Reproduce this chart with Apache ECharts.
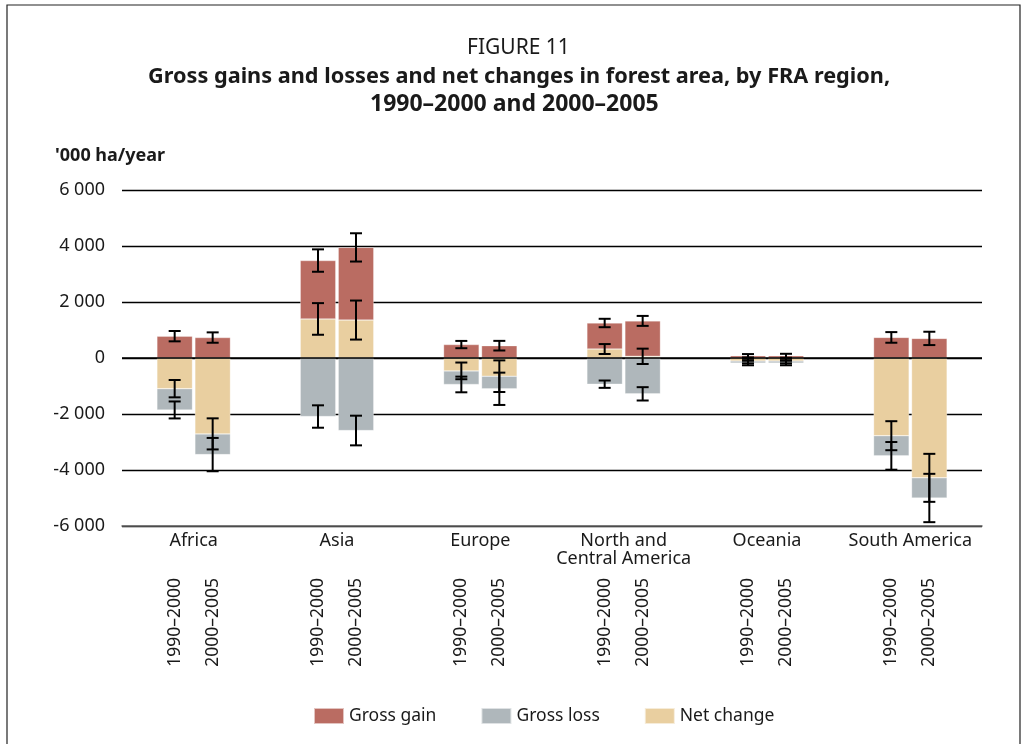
<!DOCTYPE html>
<html>
<head>
<meta charset="utf-8">
<script src="https://cdn.jsdelivr.net/npm/echarts@6/dist/echarts.min.js"></script>
<style>html,body{margin:0;padding:0;background:#fff}#chart{width:1028px;height:744px}</style>
</head>
<body>
<div id="chart"></div>
<script>
// ---- data ('000 ha/year) ----
const regions = ['Africa', 'Asia', 'Europe', 'North and\nCentral America', 'Oceania', 'South America'];
const periods = ['1990–2000', '2000–2005'];
const yTicks = [-6000, -4000, -2000, 0, 2000, 4000, 6000];

const gain1990 = [780, 3480, 480, 1250, 80, 735];
const gain2005 = [730, 3950, 440, 1325, 80, 700];
const loss1990 = [-1855, -2090, -945, -935, -180, -3495];
const loss2005 = [-3450, -2590, -1100, -1280, -180, -5000];
const net1990 = [-1095, 1395, -460, 320, -110, -2775];
const net2005 = [-2710, 1355, -650, 60, -110, -4280];

const gainErr1990 = [185, 400, 130, 150, 60, 190];
const gainErr2005 = [185, 505, 172, 178, 70, 238];
const netErr1990 = [310, 565, 298, 178, 80, 518];
const netErr2005 = [555, 697, 565, 274, 80, 857];
const lossErr1990 = [303, 400, 280, 131, 80, 494];
const lossErr2005 = [595, 530, 577, 238, 80, 863];

// ---- style ----
const FONT = 'Noto Sans';
const TXT = '#1a1a1a';
const C_GAIN = '#BA6C62', C_LOSS = '#AFB7BB', C_NET = '#E9CFA0';
const BAR_W = 35.5, GAP_PX = 2.5;
const OFFSET = (BAR_W + GAP_PX) / 2;

// stack segments built from the values
function gainPart(g, n) { return g.map((v, i) => n[i] >= 0 ? v - n[i] : v); }
function lossPart(l, n) { return l.map((v, i) => n[i] < 0 ? v - n[i] : v); }

function barSeries(name, data, stack, color) {
  return {
    name: name, type: 'bar', stack: stack, data: data,
    barWidth: BAR_W, barGap: (GAP_PX / BAR_W * 100).toFixed(1) + '%',
    itemStyle: { color: color, borderColor: 'rgba(255,255,255,0.6)', borderWidth: 0.5 },
    silent: true
  };
}

const errData = [];
[[gain1990, gainErr1990, net1990, netErr1990, loss1990, lossErr1990],
 [gain2005, gainErr2005, net2005, netErr2005, loss2005, lossErr2005]].forEach((s, p) => {
  for (let i = 0; i < regions.length; i++) {
    for (let k = 0; k < 6; k += 2) {
      const v = s[k][i], e = s[k + 1][i];
      errData.push([i, p, v - e, v + e]);
    }
  }
});

const periodData = [];
for (let i = 0; i < regions.length; i++) { periodData.push([i, 0]); periodData.push([i, 1]); }

const chart = echarts.init(document.getElementById('chart'), null, { renderer: 'canvas' });
chart.setOption({
  animation: false,
  backgroundColor: '#fff',
  textStyle: { fontFamily: FONT, color: TXT },
  graphic: [{ type: 'rect', shape: { x: 7, y: 5, width: 1013, height: 800 },
              style: { fill: 'none', stroke: '#222', lineWidth: 1.2 }, silent: true }],
  title: [
    { text: 'FIGURE 11', left: 467, top: 38, padding: 0,
      textStyle: { fontFamily: FONT, fontSize: 21, fontWeight: 'normal', color: TXT } },
    { text: 'Gross gains and losses and net changes in forest area, by FRA region,',
      left: 148, top: 66, padding: 0,
      textStyle: { fontFamily: FONT, fontSize: 21.7, fontWeight: 'bold', color: TXT } },
    { text: '1990–2000 and 2000–2005',
      left: 370, top: 93, padding: 0,
      textStyle: { fontFamily: FONT, fontSize: 23, fontWeight: 'bold', color: TXT } },
    { text: "'000 ha/year", left: 55, top: 147, padding: 0,
      textStyle: { fontFamily: FONT, fontSize: 18, fontWeight: 'bold', color: TXT } }
  ],
  legend: {
    data: ['Gross gain', 'Gross loss', 'Net change'],
    left: 313, top: 707, padding: 0, itemWidth: 30, itemHeight: 16, itemGap: 44,
    icon: 'rect', selectedMode: false,
    textStyle: { fontFamily: FONT, fontSize: 17.5, color: TXT }
  },
  grid: { left: 122, right: 46, top: 190, bottom: 218, containLabel: false },
  xAxis: {
    type: 'category', data: regions,
    axisLine: { show: true, onZero: false, lineStyle: { color: '#666', width: 1.5 } },
    axisTick: { show: false },
    axisLabel: { fontFamily: FONT, fontSize: 18, color: TXT, margin: 6, lineHeight: 18, interval: 0 }
  },
  yAxis: {
    type: 'value', min: yTicks[0], max: yTicks[yTicks.length - 1], interval: 2000,
    axisLine: { show: false }, axisTick: { show: false },
    splitLine: { lineStyle: { color: '#000', width: 1.3 } },
    axisLabel: {
      fontFamily: FONT, fontSize: 18, color: TXT, margin: 17,
      formatter: v => (v < 0 ? '-' : '') + String(Math.abs(v)).replace(/\B(?=(\d{3})+(?!\d))/g, ' ')
    }
  },
  series: [
    barSeries('Net change', net1990, 'p1', C_NET),
    barSeries('Gross gain', gainPart(gain1990, net1990), 'p1', C_GAIN),
    barSeries('Gross loss', lossPart(loss1990, net1990), 'p1', C_LOSS),
    barSeries('Net change', net2005, 'p2', C_NET),
    barSeries('Gross gain', gainPart(gain2005, net2005), 'p2', C_GAIN),
    barSeries('Gross loss', lossPart(loss2005, net2005), 'p2', C_LOSS),
    {
      name: 'errors', type: 'custom', data: errData, silent: true, z: 5,
      encode: { x: 0, y: [2, 3] },
      renderItem: function (params, api) {
        const c = api.value(0), p = api.value(1);
        const lo = api.coord([c, api.value(2)]);
        const hi = api.coord([c, api.value(3)]);
        const x = lo[0] + (p === 0 ? -OFFSET : OFFSET);
        const st = { stroke: '#000', lineWidth: 2 };
        return { type: 'group', children: [
          { type: 'line', shape: { x1: x, y1: hi[1], x2: x, y2: lo[1] }, style: st },
          { type: 'line', shape: { x1: x - 6, y1: hi[1], x2: x + 6, y2: hi[1] }, style: st },
          { type: 'line', shape: { x1: x - 6, y1: lo[1], x2: x + 6, y2: lo[1] }, style: st }
        ]};
      },
      markLine: { silent: true, symbol: 'none', label: { show: false },
        lineStyle: { color: '#000', width: 1.6, type: 'solid' }, data: [{ yAxis: 0 }] }
    },
    {
      name: 'periods', type: 'custom', data: periodData, silent: true, clip: false,
      encode: { x: 0 },
      renderItem: function (params, api) {
        const c = api.value(0), p = api.value(1);
        const base = api.coord([c, yTicks[0]]);
        return {
          type: 'text', x: base[0] + (p === 0 ? -OFFSET : OFFSET), y: base[1] + 52,
          rotation: Math.PI / 2,
          style: { text: periods[p], fontFamily: FONT, fontSize: 17.5, fill: TXT,
                   align: 'right', verticalAlign: 'middle' }
        };
      }
    }
  ]
});
</script>
</body>
</html>
